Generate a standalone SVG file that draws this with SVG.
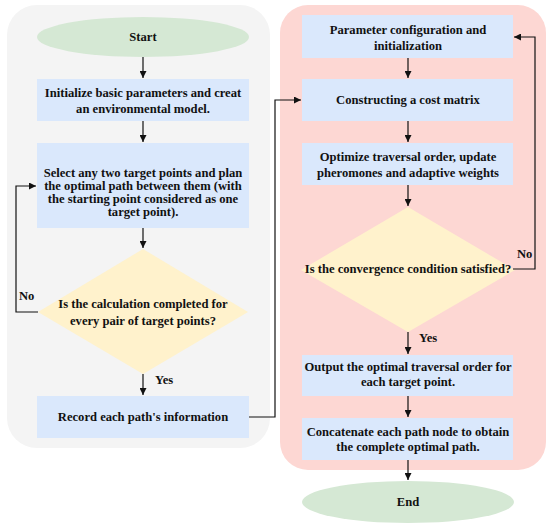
<svg xmlns="http://www.w3.org/2000/svg" width="550" height="530" viewBox="0 0 550 530">
<defs>
<style>
.t{font-family:"Liberation Serif","Times New Roman",serif;font-weight:bold;font-size:12.6px;fill:#111;text-anchor:middle}
.lbl{font-family:"Liberation Serif","Times New Roman",serif;font-weight:bold;font-size:12.6px;fill:#111}
.box{fill:#dae8fc}
.dia{fill:#fff2cc}
.ell{fill:#d5e8d4}
.c{fill:none;stroke:#111;stroke-width:1.2}
</style>
<marker id="ah" viewBox="0 0 10 10" refX="10" refY="5" markerWidth="7" markerHeight="7" markerUnits="userSpaceOnUse" orient="auto"><path d="M0,0 L10,5 L0,10 Z" fill="#111"/></marker>
</defs>
<rect x="0" y="0" width="550" height="530" fill="#fff"/>
<rect id="panel-left" x="7" y="5" width="263" height="443" rx="30" fill="#f4f4f4"/>
<rect id="panel-right" x="280" y="5" width="266" height="465" rx="28" fill="#fdd7d3"/>

<g id="start"><ellipse class="ell" cx="143" cy="37" rx="106" ry="20"/><text class="t" x="143" y="41">Start</text></g>
<g id="init"><rect class="box" x="37" y="79" width="212" height="42"/><text class="t" x="143" y="97">Initialize basic parameters and creat</text><text class="t" x="143" y="113">an environmental model.</text></g>
<g id="select"><rect class="box" x="37" y="143" width="212" height="85"/><text class="t" x="143" y="177">Select any two target points and plan</text><text class="t" x="143" y="190">the optimal path between them (with</text><text class="t" x="143" y="203">the starting point considered as one</text><text class="t" x="143" y="216">target point).</text></g>
<g id="check1"><polygon class="dia" points="143,249 248,312 143,374 38,312"/><text class="t" x="143" y="308">Is the calculation completed for</text><text class="t" x="143" y="325">every pair of target points?</text></g>
<g id="record"><rect class="box" x="37" y="396" width="212" height="42"/><text class="t" x="143" y="421">Record each path's information</text></g>

<g id="param"><rect class="box" x="302" y="15" width="211" height="43"/><text class="t" x="408" y="34">Parameter configuration and</text><text class="t" x="408" y="50">initialization</text></g>
<g id="cost"><rect class="box" x="302" y="79" width="211" height="42"/><text class="t" x="408" y="104">Constructing a cost matrix</text></g>
<g id="optimize"><rect class="box" x="302" y="143" width="211" height="42"/><text class="t" x="408" y="161">Optimize traversal order, update</text><text class="t" x="408" y="177">pheromones and adaptive weights</text></g>
<g id="check2"><polygon class="dia" points="408,207 515,270 408,332 301,270"/><text class="t" x="408" y="273">Is the convergence condition satisfied?</text></g>
<g id="output"><rect class="box" x="302" y="355" width="211" height="41"/><text class="t" x="408" y="371">Output the optimal traversal order for</text><text class="t" x="408" y="386">each target point.</text></g>
<g id="concat"><rect class="box" x="302" y="418" width="211" height="42"/><text class="t" x="408" y="436">Concatenate each path node to obtain</text><text class="t" x="408" y="451">the complete optimal path.</text></g>
<g id="end"><ellipse class="ell" cx="408" cy="502" rx="106" ry="21"/><text class="t" x="408" y="506">End</text></g>

<g id="connectors">
<path class="c" d="M143,57 V78" marker-end="url(#ah)"/>
<path class="c" d="M143,121 V142" marker-end="url(#ah)"/>
<path class="c" d="M143,228 V248" marker-end="url(#ah)"/>
<path class="c" d="M38,312 H16 V186 H36" marker-end="url(#ah)"/>
<path class="c" d="M143,374 V395" marker-end="url(#ah)"/>
<path class="c" d="M249,417 H275 V100 H301" marker-end="url(#ah)"/>
<path class="c" d="M408,58 V78" marker-end="url(#ah)"/>
<path class="c" d="M408,121 V142" marker-end="url(#ah)"/>
<path class="c" d="M408,185 V206" marker-end="url(#ah)"/>
<path class="c" d="M513,269 H535 V37 H514" marker-end="url(#ah)"/>
<path class="c" d="M408,332 V354" marker-end="url(#ah)"/>
<path class="c" d="M408,396 V417" marker-end="url(#ah)"/>
<path class="c" d="M408,460 V480" marker-end="url(#ah)"/>
<text class="lbl" x="19" y="300">No</text>
<text class="lbl" x="155" y="384">Yes</text>
<text class="lbl" x="517" y="258">No</text>
<text class="lbl" x="419" y="342">Yes</text>
</g>
</svg>
